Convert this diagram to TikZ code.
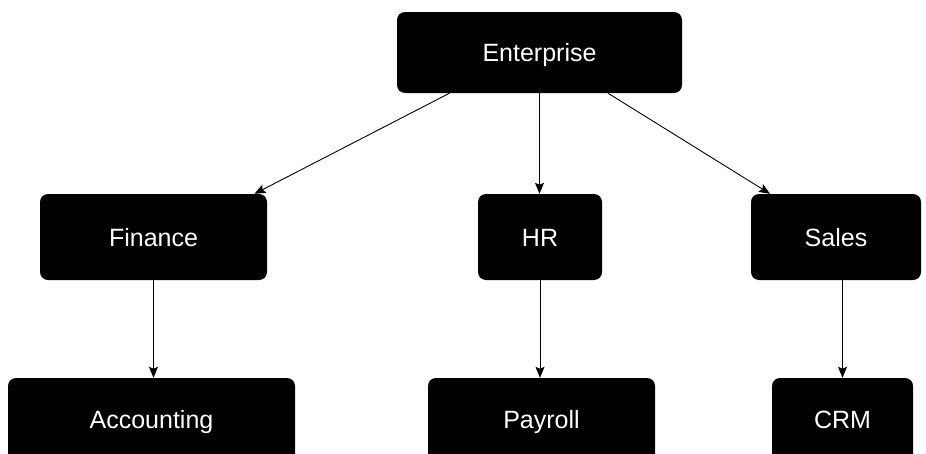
\documentclass[tikz,border=0pt]{standalone}
\usepackage{fontspec}
\setmainfont{Liberation Sans}
\usetikzlibrary{arrows.meta,calc}
\begin{document}
\begin{tikzpicture}[x=1pt,y=-1pt,
  box/.style={rectangle,rounded corners=8pt,fill=black,text=white,inner sep=0pt,
    text height=18pt,text depth=0pt,
    font=\fontsize{25}{30}\selectfont},
  link/.style={draw=black,line width=0.9pt,-{Stealth[length=11pt,width=9pt,inset=2pt]}}]
\useasboundingbox[fill=white] (0,0) rectangle (926,453);
\node[box,minimum width=285pt,minimum height=81pt] (ent) at (539.5,52.5) {Enterprise};
\node[box,minimum width=227pt,minimum height=86pt] (fin) at (153.5,237) {Finance};
\node[box,minimum width=124pt,minimum height=86pt] (hr) at (540,237) {HR};
\node[box,minimum width=170pt,minimum height=86pt] (sales) at (836,237) {Sales};
\node[box,minimum width=287pt,minimum height=86pt] (acc) at (151.5,421) {\raisebox{2pt}{Accounting}};
\node[box,minimum width=227pt,minimum height=86pt] (pay) at (541.5,421) {\raisebox{2pt}{Payroll}};
\node[box,minimum width=141pt,minimum height=86pt] (crm) at (842.5,421) {\raisebox{2pt}{CRM}};
\draw[link] ($(ent.south)+(-90,0)$) -- ($(fin.north)+(101,0)$);
\draw[link] (ent.south) -- (ent.south |- hr.north);
\draw[link] ($(ent.south)+(68.5,0)$) -- ($(sales.north)+(-66,0)$);
\draw[link] (fin.south) -- (fin.south |- acc.north);
\draw[link] (hr.south) -- (hr.south |- pay.north);
\draw[link] (crm.north |- sales.south) -- (crm.north);
\end{tikzpicture}
\end{document}
